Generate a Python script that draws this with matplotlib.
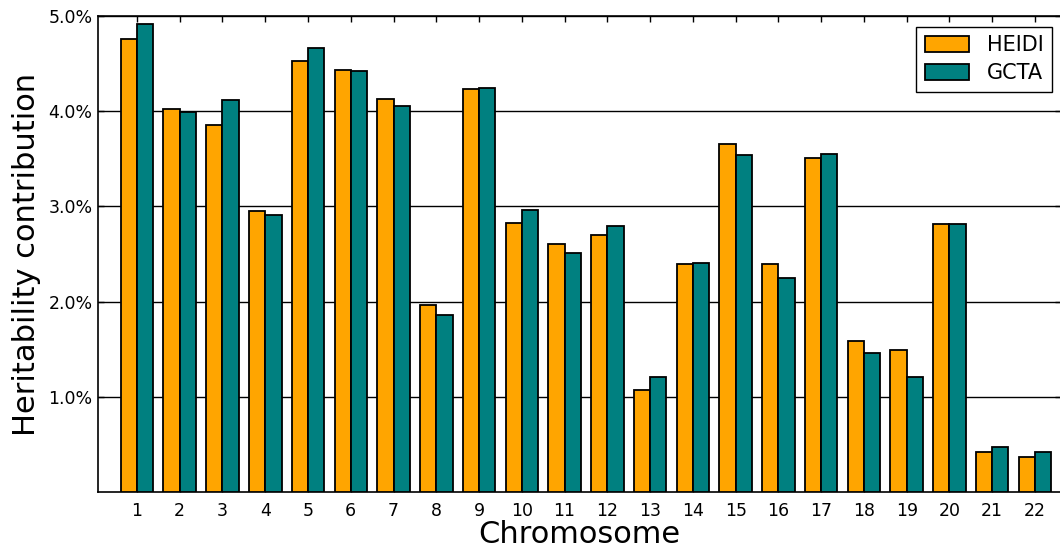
import numpy as np
import matplotlib
matplotlib.use("Agg")
import matplotlib.pyplot as plt
from matplotlib.ticker import FuncFormatter

# per-chromosome share of heritability, in percent
chromosomes = list(range(1, 23))
heidi = [4.76, 4.02, 3.85, 2.95, 4.52, 4.43, 4.13, 1.96, 4.23, 2.83, 2.60,
         2.70, 1.07, 2.39, 3.65, 2.39, 3.51, 1.59, 1.49, 2.81, 0.42, 0.37]
gcta = [4.91, 3.99, 4.12, 2.91, 4.66, 4.42, 4.05, 1.86, 4.24, 2.96, 2.51,
        2.79, 1.21, 2.40, 3.54, 2.25, 3.55, 1.46, 1.21, 2.81, 0.47, 0.42]
ytick_vals = [1.0, 2.0, 3.0, 4.0, 5.0]

plt.rcParams['font.family'] = ['DejaVu Sans']

fig = plt.figure(figsize=(10.6, 5.5), dpi=100)
ax = fig.add_axes([0.0925, 0.105, 0.9085, 0.8665])

x = np.array(chromosomes)
w = 0.38
ax.bar(x - w / 2, heidi, w, color='#FFA500', edgecolor='black', linewidth=1.3,
       label='HEIDI', zorder=3)
ax.bar(x + w / 2, gcta, w, color='#008080', edgecolor='black', linewidth=1.3,
       label='GCTA', zorder=3)

ax.set_xlim(0.09, 22.61)
ax.set_ylim(0, 5.0)
ax.set_xticks(chromosomes)
ax.set_yticks(ytick_vals)
ax.yaxis.set_major_formatter(FuncFormatter(lambda v, p: '%.1f%%' % v))

ax.yaxis.grid(True, color='black', linewidth=1.0, linestyle='-', zorder=0)
ax.set_axisbelow(True)

ax.tick_params(axis='both', direction='in', length=4, width=1,
               top=True, right=True, labelsize=12.5)
ax.tick_params(axis='x', pad=7)
ax.tick_params(axis='y', pad=4)
for s in ax.spines.values():
    s.set_linewidth(1.2)

ax.set_xlabel('Chromosome', fontsize=22, labelpad=0)
ax.set_ylabel('Heritability contribution', fontsize=22, labelpad=5)

leg = ax.legend(loc='upper right', bbox_to_anchor=(0.9907, 0.976), fontsize=15,
                fancybox=False, framealpha=1, edgecolor='black',
                borderaxespad=0, handlelength=2.15, handleheight=0.8,
                borderpad=0.4, labelspacing=0.38, handletextpad=0.85)
leg.get_frame().set_linewidth(1.0)

fig.savefig('out.png', dpi=100, facecolor='white')
